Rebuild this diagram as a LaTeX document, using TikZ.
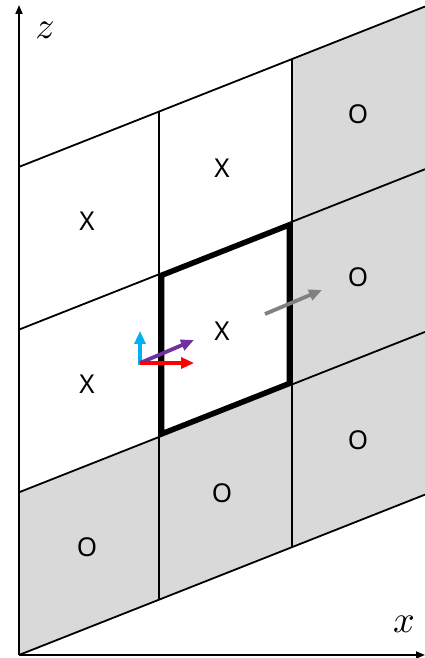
\documentclass[tikz,border=0pt]{standalone}
\usepackage{fontspec}
\newfontfamily\cellfont{Noto Sans}
\usetikzlibrary{arrows.meta}
\definecolor{cellgray}{HTML}{D9D9D9}
\definecolor{vecblue}{HTML}{00B0F0}
\definecolor{vecpurple}{HTML}{7030A0}

\begin{document}
\begin{tikzpicture}[x=1pt, y=1pt,
    grid/.style={line width=1.8pt},
    cell/.style={font=\cellfont\fontsize{26}{26}\selectfont},
    vec/.style={line width=3.8pt, -{Triangle[length=13pt, width=11pt]}},
    axis/.style={line width=1.8pt, -{Triangle[length=9pt, width=7pt]}},
    lbl/.style={scale=3.8}]
    \useasboundingbox (0,0) rectangle (425,658);
    % slanted lattice, u along the rows, k counts the rows
    \begin{scope}[shift={(19,3)}, x={(1pt,0.395pt)}, y={(0pt,162.7pt)}]
        \fill[cellgray] (273,0) -- (406,0) -- (406,3) -- (273,3) -- cycle;
        \fill[cellgray] (0,0) -- (273,0) -- (273,1) -- (0,1) -- cycle;
        \foreach \k in {0,...,3}
            \draw[grid] (0,\k) -- (406,\k);
        \foreach \u in {0,140,273}
            \draw[grid] (\u,0) -- (\u,3);
        \draw[line width=4.8pt, line join=miter]
            (143,1.015) -- (270,1.015) -- (270,1.985) -- (143,1.985) -- cycle;
        \node[cell] (c11) at (68,1.5) {X};
        \node[cell] (c12) at (68,2.5) {X};
        \node[cell] (c21) at (203,1.5) {X};
        \node[cell] (c22) at (203,2.5) {X};
        \node[cell] (c10) at (68,0.5) {O};
        \node[cell] (c20) at (203,0.5) {O};
        \node[cell] (c30) at (339,0.5) {O};
        \node[cell] (c31) at (339,1.5) {O};
        \node[cell] (c32) at (339,2.5) {O};
    \end{scope}
    % axes
    \coordinate (orig) at (19,3);
    \coordinate (xend) at (425,3);
    \coordinate (zend) at (19,653);
    \draw[axis] (orig) -- (xend);
    \draw[axis] (orig) -- (zend);
    \node[lbl] (xlab) at (404,34) {$x$};
    \node[lbl] (zlab) at (45,628) {$z$};
    % vectors
    \coordinate (p) at (140,295);
    \coordinate (pb) at (140,293);
    \coordinate (tb) at (140,327);
    \coordinate (tr) at (194,295);
    \coordinate (tp) at (194,318);
    \coordinate (g0) at (265,344);
    \coordinate (g1) at (322,368);
    \draw[vec, vecblue] (pb) -- (tb);
    \draw[vec, vecpurple] (p) -- (tp);
    \draw[vec, red] (p) -- (tr);
    \draw[vec, gray] (g0) -- (g1);
\end{tikzpicture}
\end{document}
